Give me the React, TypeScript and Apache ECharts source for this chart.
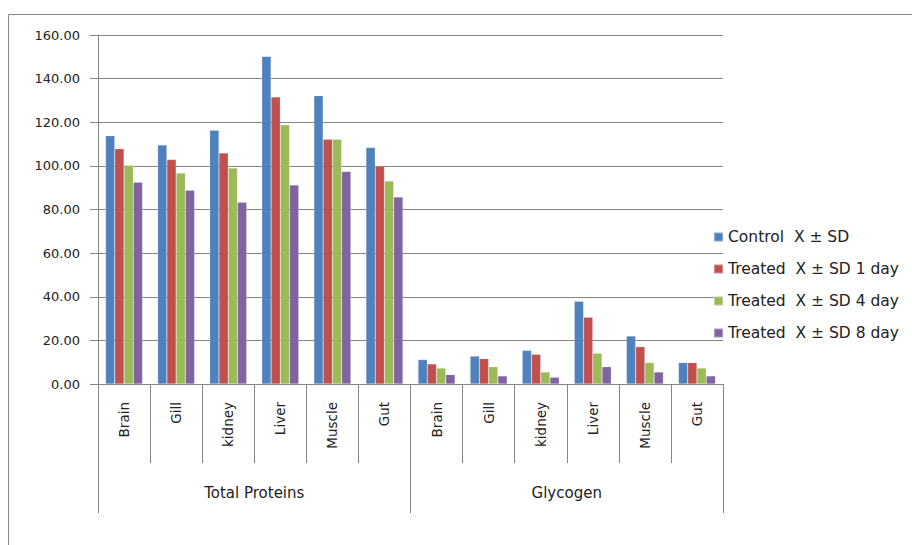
import React, { useEffect, useRef } from "react";
import * as echarts from "echarts";

const categories = ["Brain", "Gill", "kidney", "Liver", "Muscle", "Gut", "Brain", "Gill", "kidney", "Liver", "Muscle", "Gut"];
const groups = ["Total Proteins", "Glycogen"];
const seriesNames = ["Control  X ± SD", "Treated  X ± SD 1 day", "Treated  X ± SD 4 day", "Treated  X ± SD 8 day"];
const control = [113.8, 109.6, 116.3, 150.2, 132.2, 108.4, 11.2, 12.8, 15.4, 37.9, 22.0, 9.8];
const treated1 = [107.9, 102.9, 105.9, 131.6, 112.2, 99.9, 9.2, 11.6, 13.6, 30.6, 17.1, 9.8];
const treated4 = [100.3, 96.7, 99.0, 118.8, 112.2, 93.1, 7.3, 7.9, 5.5, 14.1, 9.8, 7.3];
const treated8 = [92.5, 88.8, 83.3, 91.2, 97.4, 85.7, 4.3, 3.7, 3.1, 7.9, 5.5, 3.7];
const colors = ["#4F81BD", "#C0504D", "#9BBB59", "#8064A2"];

export default function App() {
  const ref = useRef<HTMLDivElement>(null);
  useEffect(() => {
    if (!ref.current) return;
    const chart = echarts.init(ref.current, null, { renderer: "svg" });
    const lineColor = "#868686";
    const font = "DejaVu Sans";
    const values = [control, treated1, treated4, treated8];
    chart.setOption({
      animation: false,
      backgroundColor: "#ffffff",
      grid: { left: 98, right: 189, top: 35, bottom: 161, containLabel: false },
      legend: {
        orient: "vertical",
        left: 713,
        top: 229,
        padding: 0,
        itemWidth: 9,
        itemHeight: 9,
        itemGap: 16,
        icon: "rect",
        textStyle: { fontFamily: font, fontSize: 15.5, color: "#222" },
        data: seriesNames,
      },
      xAxis: [
        {
          type: "category",
          data: categories,
          position: "bottom",
          axisLine: { show: true, lineStyle: { color: lineColor, width: 1 } },
          axisTick: { show: true, length: 79, lineStyle: { color: lineColor } },
          axisLabel: { interval: 0, rotate: 90, margin: 18, fontFamily: font, fontSize: 13.5, color: "#222" },
        },
        {
          type: "category",
          data: groups,
          position: "bottom",
          axisLine: { show: false },
          axisTick: { show: true, length: 129, lineStyle: { color: lineColor } },
          axisLabel: { interval: 0, margin: 101, fontFamily: font, fontSize: 15, color: "#222" },
        },
      ],
      yAxis: {
        type: "value",
        min: 0,
        max: 160,
        interval: 20,
        axisLine: { show: true, lineStyle: { color: lineColor } },
        axisTick: { show: true, length: 8, lineStyle: { color: lineColor } },
        axisLabel: { margin: 18, fontFamily: font, fontSize: 13, color: "#222", formatter: (v: number) => v.toFixed(2) },
        splitLine: { show: true, lineStyle: { color: lineColor, width: 1 } },
      },
      series: values.map((d, i) => ({
        name: seriesNames[i],
        type: "bar",
        xAxisIndex: 0,
        data: d,
        barGap: "0%",
        barCategoryGap: "29%",
        itemStyle: { color: colors[i], borderColor: "rgba(255,255,255,0.35)", borderWidth: 0.5 },
      })),
      graphic: [
        {
          type: "rect",
          shape: { x: 8.5, y: 14.5, width: 1000, height: 700 },
          style: { fill: "none", stroke: "#8a8a8a", lineWidth: 1 },
          silent: true,
        },
      ],
    });
    return () => chart.dispose();
  }, []);
  return <div ref={ref} style={{ position: "fixed", left: 0, top: 0, width: 912, height: 545 }} />;
}
